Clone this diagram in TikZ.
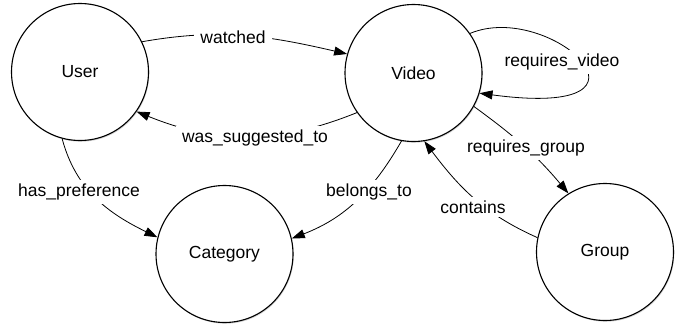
\documentclass[tikz,border=0pt]{standalone}
\usepackage{fontspec}
\setmainfont{Liberation Sans}
\usetikzlibrary{arrows.meta,shadows}

\begin{document}
\begin{tikzpicture}[x=1pt,y=1pt,
  entity/.style={circle, draw, line width=1.1pt, fill=white,
    minimum size=137pt, inner sep=0pt,
    font=\fontsize{17.5}{21}\selectfont,
    drop shadow={shadow xshift=0.8pt, shadow yshift=-1.2pt, opacity=0.35}},
  rel/.style={line width=0.8pt, -{Triangle[length=13pt,width=9pt]}},
  lbl/.style={fill=white, inner xsep=6pt, inner ysep=4pt,
    font=\fontsize{17.5}{21}\selectfont}]
\useasboundingbox (0,0) rectangle (686,-324);

% entities
\node[entity] (user)     at (80,-72)     {User};
\node[entity] (video)    at (413.5,-73)  {Video};
\node[entity] (category) at (224.5,-254) {Category};
\node[entity] (group)    at (605,-252)   {Group};

% relationships
\draw[rel] (user.26) to[out=10,in=167] (video.164);
\draw[rel] (video.215) to[out=202,in=338] (user.325);
\draw[rel] (video.35) .. controls (550,0) and (680,-120) .. (video.-17);
\draw[rel] (video.-29) to[out=-36,in=130] (group.122);
\draw[rel] (user.255) to[out=-75,in=154] (category.166);
\draw[rel] (video.260) to[out=240,in=21] (category.13);
\draw[rel] (group.168) to[out=156,in=307] (video.279);

% relationship labels
\node[lbl] (lwatched)   at (233,-37)  {watched};
\node[lbl] (lsuggested) at (255,-138) {was\_suggested\_to};
\node[lbl] (lreqvideo)  at (562,-62)  {requires\_video};
\node[lbl] (lreqgroup)  at (526,-148) {requires\_group};
\node[lbl] (lpref)      at (79,-192)  {has\_preference};
\node[lbl] (lbelongs)   at (369,-192) {belongs\_to};
\node[lbl] (lcontains)  at (473,-207) {contains};
\end{tikzpicture}
\end{document}
